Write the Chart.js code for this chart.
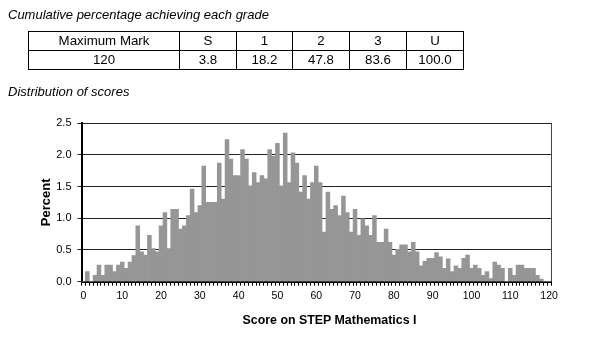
<!DOCTYPE html>
<html>
<head>
<meta charset="utf-8">
<script src="https://cdn.jsdelivr.net/npm/chart.js@4.4.0/dist/chart.umd.min.js"></script>
<style>
  html, body { margin: 0; padding: 0; background: #fff; }
  body { width: 589px; height: 340px; position: relative; overflow: hidden;
         font-family: "Liberation Sans", Arial, sans-serif; color: #000; }
  #chart { position: absolute; left: 0; top: 0; }
  .caption { position: absolute; left: 8px; font-style: italic; font-size: 13px; white-space: nowrap; }
  #grades { position: absolute; left: 28px; top: 31px; border-collapse: collapse; font-size: 13.3px; }
  #grades td { border: 1px solid #000; height: 18px; padding: 0; text-align: center; line-height: 18px; }
  #xtitle { position: absolute; top: 313px; left: 0; width: 659px; text-align: center;
            font-weight: bold; font-size: 12.4px; white-space: nowrap; }
</style>
</head>
<body>
<canvas id="chart" width="589" height="340"></canvas>
<div class="caption" style="top:7px">Cumulative percentage achieving each grade</div>
<table id="grades">
  <tr id="gradeHead"></tr>
  <tr id="gradeRow"></tr>
</table>
<div class="caption" style="top:84px">Distribution of scores</div>
<div id="xtitle">Score on STEP Mathematics I</div>
<script>
// 等级表
const gradeNames = ['Maximum Mark', 'S', '1', '2', '3', 'U'];
const gradeValues = ['120', '3.8', '18.2', '47.8', '83.6', '100.0'];
const colWidths = [150, 56, 55, 56, 56, 56];

// 分数分布 (0 - 120)
const scores = [];
for (let s = 0; s <= 120; s++) scores.push(String(s));

const percent = [
    0, 0.16, 0, 0.10, 0.26, 0.10, 0.26, 0.26, 0.16, 0.26,
    0.31, 0.21, 0.31, 0.41, 0.88, 0.47, 0.42, 0.73, 0.52, 0.47,
    0.88, 1.09, 0.52, 1.14, 1.14, 0.83, 0.88, 1.04, 1.46, 1.09,
    1.20, 1.82, 1.25, 1.25, 1.25, 1.87, 1.30, 2.24, 1.93, 1.67,
    1.67, 2.08, 1.93, 1.51, 1.72, 1.56, 1.67, 1.62, 2.08, 1.98,
    2.18, 1.51, 2.34, 1.56, 2.03, 1.87, 1.41, 1.67, 1.30, 1.56,
    1.82, 1.56, 0.78, 1.41, 1.14, 1.20, 1.04, 1.35, 1.09, 0.78,
    1.14, 0.73, 0.99, 0.88, 0.73, 1.04, 0.62, 0.62, 0.83, 0.62,
    0.42, 0.51, 0.58, 0.58, 0.47, 0.62, 0.47, 0.25, 0.32, 0.37,
    0.37, 0.46, 0.39, 0.21, 0.36, 0.16, 0.25, 0.21, 0.37, 0.42,
    0.21, 0.26, 0.21, 0.10, 0.16, 0.05, 0.31, 0.26, 0.21, 0,
    0.21, 0.10, 0.26, 0.26, 0.21, 0.21, 0.21, 0.10, 0.04, 0,
    0
];

const yTicks = [0, 0.5, 1.0, 1.5, 2.0, 2.5];

// 填充表格
gradeNames.forEach((name, i) => {
    const td = document.createElement('td');
    td.textContent = name;
    td.style.width = colWidths[i] + 'px';
    document.getElementById('gradeHead').appendChild(td);
});
gradeValues.forEach((v, i) => {
    const td = document.createElement('td');
    td.textContent = v;
    td.style.width = colWidths[i] + 'px';
    document.getElementById('gradeRow').appendChild(td);
});

// 右边框
const frameRight = {
    id: 'frameRight',
    afterDraw(chart) {
        const a = chart.chartArea;
        const ctx = chart.ctx;
        ctx.save();
        ctx.strokeStyle = '#444';
        ctx.lineWidth = 1;
        ctx.beginPath();
        ctx.moveTo(Math.round(a.right) + 0.5, a.top);
        ctx.lineTo(Math.round(a.right) + 0.5, a.bottom);
        ctx.stroke();
        ctx.restore();
    }
};

new Chart(document.getElementById('chart'), {
    type: 'bar',
    data: {
        labels: scores,
        datasets: [{
            data: percent,
            backgroundColor: '#969696',
            borderWidth: 0,
            barPercentage: 1,
            categoryPercentage: 1
        }]
    },
    options: {
        responsive: false,
        animation: false,
        layout: { padding: { left: 0, top: 123, right: 38, bottom: 0 } },
        plugins: { legend: { display: false }, tooltip: { enabled: false } },
        scales: {
            x: {
                afterFit(scale) { scale.height = 58.3; },
                grid: { offset: true, drawOnChartArea: false, drawTicks: true, tickLength: 4, color: '#000' },
                border: { color: '#000', width: 2 },
                ticks: {
                    autoSkip: false,
                    maxRotation: 0,
                    minRotation: 0,
                    padding: 4,
                    color: '#000',
                    font: { family: '"Liberation Sans", Arial', size: 10.5 },
                    callback: function(val, i) {
                        return i % 10 === 0 ? this.getLabelForValue(val) : '';
                    }
                }
            },
            y: {
                min: 0,
                max: 2.5,
                afterFit(scale) { scale.width = 81.5; },
                afterBuildTicks(scale) { scale.ticks = yTicks.map(v => ({ value: v })); },
                grid: { color: '#222', lineWidth: 1, tickLength: 4 },
                border: { color: '#000', width: 2 },
                ticks: {
                    padding: 6,
                    color: '#000',
                    font: { family: '"Liberation Sans", Arial', size: 11 },
                    callback: v => v.toFixed(1)
                },
                title: {
                    display: true,
                    text: 'Percent',
                    color: '#000',
                    padding: { top: 39, bottom: 0 },
                    font: { family: '"Liberation Sans", Arial', size: 13, weight: 'bold' }
                }
            }
        }
    },
    plugins: [frameRight]
});
</script>
</body>
</html>
